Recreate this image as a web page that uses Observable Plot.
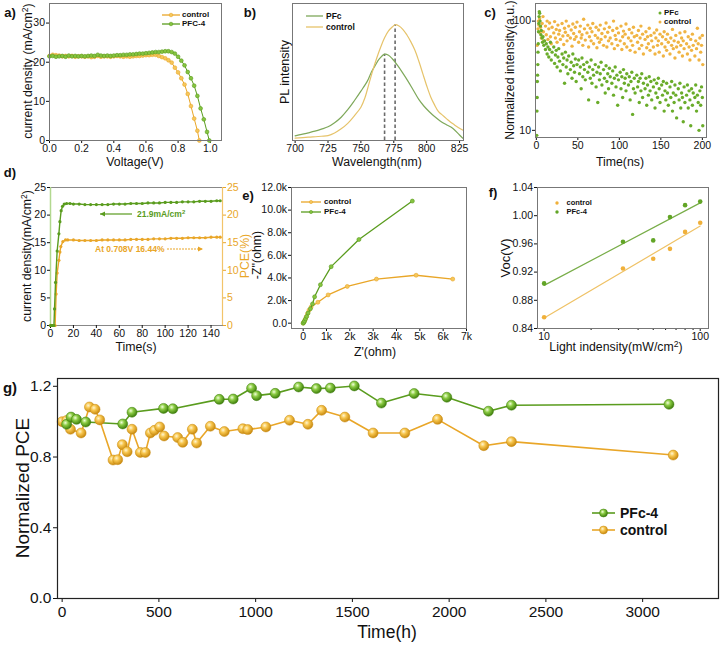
<!DOCTYPE html>
<html><head><meta charset="utf-8">
<script src="https://cdn.jsdelivr.net/npm/d3@7"></script>
<script src="https://cdn.jsdelivr.net/npm/@observablehq/plot@0.6"></script>
<style>
body{margin:0;background:#fff}
#root{position:relative;width:720px;height:646px;overflow:hidden;background:#fff}
.t{position:absolute;white-space:nowrap;line-height:1}
.t sup{font-size:0.7em;line-height:0;vertical-align:0.45em}
</style></head><body><div id="root"></div>
<script>
// ---------------- DATA ----------------
// a) J-V curves [voltage V, current density mA/cm2]
const jvControl = [[0,21.6],[0.02,21.9],[0.04,21.8],[0.06,21.7],[0.08,21.5],[0.10,21.6],[0.12,21.5],[0.14,21.6],[0.16,21.4],[0.18,21.5],[0.20,21.5],[0.22,21.4],[0.24,21.5],[0.26,21.3],[0.28,21.4],[0.30,21.6],[0.32,21.4],[0.34,21.5],[0.36,21.5],[0.38,21.4],[0.40,21.5],[0.42,21.6],[0.44,21.5],[0.46,21.4],[0.48,21.5],[0.50,21.4],[0.52,21.5],[0.54,21.6],[0.56,21.6],[0.58,21.7],[0.60,21.8],[0.62,21.8],[0.64,21.9],[0.66,21.9],[0.68,21.6],[0.70,21.3],[0.72,21.0],[0.74,20.5],[0.76,19.9],[0.78,18.6],[0.80,17.4],[0.82,15.9],[0.84,14.3],[0.86,11.9],[0.88,8.8],[0.90,5.6],[0.92,2.5],[0.932,0]];
const jvPFC4 = [[0,21.5],[0.02,21.6],[0.04,21.4],[0.06,21.5],[0.08,21.6],[0.10,21.4],[0.12,21.7],[0.14,21.5],[0.16,21.6],[0.18,21.5],[0.20,21.6],[0.22,21.5],[0.24,21.6],[0.26,21.7],[0.28,21.6],[0.30,21.9],[0.32,21.7],[0.34,21.6],[0.36,21.7],[0.38,21.6],[0.40,21.7],[0.42,21.8],[0.44,21.8],[0.46,21.9],[0.48,21.9],[0.50,22.0],[0.52,22.0],[0.54,22.1],[0.56,22.2],[0.58,22.2],[0.60,22.3],[0.62,22.4],[0.64,22.5],[0.66,22.6],[0.68,22.6],[0.70,22.7],[0.72,22.8],[0.74,22.8],[0.76,22.6],[0.78,22.2],[0.80,21.4],[0.82,20.4],[0.84,19.2],[0.86,17.5],[0.88,15.9],[0.90,14.0],[0.92,11.4],[0.94,8.2],[0.96,5.4],[0.98,2.2],[0.994,0]];

// b) PL spectra [wavelength nm, relative intensity]
const plPFc = [[700,0.034],[705,0.045],[710,0.056],[715,0.068],[720,0.083],[725,0.1],[730,0.13],[735,0.17],[740,0.225],[745,0.29],[750,0.36],[755,0.435],[758,0.5],[761,0.55],[764,0.595],[768,0.63],[771,0.622],[774,0.595],[778,0.546],[782,0.49],[786,0.43],[790,0.365],[794,0.3],[798,0.25],[802,0.21],[806,0.175],[810,0.145],[815,0.115],[820,0.088],[825,0.04],[828,0.012]];
const plControl = [[700,0.017],[710,0.024],[720,0.031],[725,0.036],[730,0.055],[735,0.085],[740,0.125],[745,0.18],[750,0.243],[753,0.31],[756,0.41],[759,0.51],[762,0.6],[765,0.68],[768,0.75],[771,0.8],[774,0.83],[776,0.845],[779,0.835],[782,0.81],[785,0.77],[788,0.72],[791,0.66],[794,0.58],[797,0.49],[800,0.4],[803,0.32],[806,0.26],[809,0.21],[812,0.185],[815,0.16],[818,0.135],[821,0.115],[824,0.095],[828,0.073]];

// c) TRPL decay [time ns, normalized intensity]
const trplPFc = [[0.5,9],[0.8,15],[1,20],[1.2,28],[1.5,32],[1.8,40],[2,52],[2.3,62],[2.6,80],[3,95],[3.3,110],[3.6,122],[4,118],[4.5,100],[5,90],[5.5,75],[6,82],[7,70],[7.5,64],[8,72],[9,60],[10,66],[11,55],[12,62],[13,50],[14,58],[15,47],[16,55],[17,64],[18,44],[19,52],[21,58],[22,41],[23,49],[24,54],[25,38],[26,47],[27,56],[28,43],[29,35],[31,50],[32,40],[33,46],[34,27],[35,52],[36,38],[37,44],[38,33],[39,48],[41,36],[42,42],[43,30],[44,50],[45,39],[46,34],[47,45],[48,28],[49,40],[51,44],[52,33],[53,38],[54,24],[55,46],[56,31],[57,40],[58,36],[59,29],[61,42],[62,34],[63,19],[64,38],[65,30],[66,44],[67,27],[68,36],[69,32],[71,40],[72,25],[73,34],[74,18],[75,38],[76,29],[77,33],[78,42],[79,26],[81,36],[82,30],[83,22],[84,39],[85,28],[86,33],[87,24],[88,37],[89,31],[91,27],[92,35],[93,21],[94,30],[95,38],[96,25],[97,32],[98,17],[99,29],[101,34],[102,24],[103,31],[104,20],[105,36],[106,27],[107,30],[108,23],[109,33],[111,26],[112,31],[113,19],[114,28],[115,34],[116,14],[117,24],[118,30],[119,22],[121,32],[122,25],[123,28],[124,18],[125,30],[126,23],[127,33],[128,20],[129,27],[131,24],[132,30],[133,17],[134,26],[135,21],[136,31],[137,23],[138,28],[139,19],[141,25],[142,29],[143,16],[144,22],[145,27],[146,20],[147,30],[148,24],[149,18],[151,26],[152,21],[153,28],[154,15],[155,23],[156,19],[157,27],[158,22],[159,17],[161,25],[162,20],[163,28],[164,15],[165,22],[166,18],[167,26],[168,21],[169,13],[171,24],[172,19],[173,27],[174,16],[175,22],[176,20],[177,12],[178,25],[179,18],[181,21],[182,26],[183,16],[184,23],[185,19],[186,11],[187,24],[188,17],[189,22],[191,20],[192,26],[193,15],[194,21],[195,18],[196,10],[197,23],[198,17],[199,25],[200,20],[200.5,11]];
const trplControl = [[1,60],[2,85],[2.5,100],[3,92],[4,105],[4.5,78],[5,88],[6,70],[7,95],[8,110],[8.5,80],[9,66],[11,90],[12,75],[13,100],[14,68],[15,85],[16,96],[17,72],[18,62],[19,88],[21,78],[22,99],[23,70],[24,84],[25,64],[26,92],[27,76],[28,82],[29,68],[31,95],[32,73],[33,61],[34,86],[35,79],[36,100],[37,66],[38,74],[39,90],[41,70],[42,83],[43,59],[44,94],[45,77],[46,68],[47,88],[48,72],[49,98],[51,64],[52,80],[53,90],[54,70],[55,75],[56,60],[57,104],[58,85],[59,67],[61,78],[62,92],[63,58],[64,72],[65,86],[66,66],[67,80],[68,95],[69,62],[71,74],[72,88],[73,57],[74,70],[75,83],[76,64],[77,92],[78,68],[79,77],[81,60],[82,85],[83,72],[84,96],[85,58],[86,79],[87,66],[88,88],[89,70],[91,62],[92,82],[93,100],[94,56],[95,74],[96,68],[97,86],[98,60],[99,78],[101,66],[102,90],[103,55],[104,72],[105,81],[106,62],[107,76],[108,94],[109,58],[111,70],[112,84],[113,54],[114,66],[115,78],[116,60],[117,88],[118,72],[119,52],[121,74],[122,64],[123,82],[124,56],[125,70],[126,90],[127,60],[128,76],[129,50],[131,68],[132,80],[133,57],[134,72],[135,62],[136,86],[137,54],[138,74],[139,66],[141,58],[142,78],[143,50],[144,70],[145,83],[146,60],[147,66],[148,52],[149,76],[151,62],[152,72],[153,48],[154,80],[155,58],[156,68],[157,54],[158,76],[159,64],[161,50],[162,70],[163,60],[164,84],[165,56],[166,66],[167,46],[168,74],[169,58],[171,64],[172,52],[173,78],[174,60],[175,70],[176,48],[177,66],[178,56],[179,80],[181,62],[182,50],[183,72],[184,58],[185,44],[186,68],[187,54],[188,76],[189,60],[191,48],[192,66],[193,56],[194,86],[195,62],[196,44],[197,70],[198,52],[199,60],[200,74],[200.5,40]];

// d) steady-state output
const jscTime = [0,1,2,3,3.5,4.4,5.8,7.3,8.2,9.3,10.5,12,14,17,20,25,30,35,40,45,50,55,60,65,70,75,80,85,90,95,100,105,110,115,120,125,130,135,140,145,148];
const jscValue = [0,0,0,0,3,7.8,13.5,16.6,18.8,20.8,21.6,22.0,22.1,22.1,22.0,22.0,21.9,21.9,21.9,21.9,21.9,22.0,22.0,22.0,22.1,22.1,22.1,22.2,22.2,22.2,22.3,22.3,22.3,22.4,22.4,22.4,22.5,22.5,22.5,22.6,22.6];
const pceTime = [0,1,2,3,4,4.9,5.8,7.3,8.2,9.0,10.8,13.1,15,20,25,30,35,40,45,50,55,60,65,70,75,80,85,90,95,100,105,110,115,120,125,130,135,140,145,148];
const pceValue = [0,0,0,0,0,5.7,9.5,11.8,13.3,14.3,15.2,15.5,15.5,15.5,15.4,15.4,15.4,15.4,15.5,15.5,15.5,15.5,15.5,15.6,15.6,15.6,15.6,15.7,15.7,15.7,15.8,15.8,15.8,15.9,15.9,15.9,15.9,16.0,16.0,16.0];

// e) Nyquist [Z' ohm, -Z'' ohm]
const eisControl = [[0,0],[40,120],[80,300],[130,550],[190,850],[250,1150],[340,1430],[630,1850],[1070,2500],[1890,3250],[3140,3900],[4840,4240],[6410,3900]];
const eisPFc4 = [[0,0],[30,80],[60,200],[100,380],[150,600],[210,900],[310,1280],[400,1700],[490,2330],[740,3400],[1200,5000],[2390,7400],[4680,10800]];

// f) Voc vs light intensity
const lightIntensity = [10, 32, 50, 64, 80, 100];
const vocControl = [0.856, 0.925, 0.939, 0.953, 0.977, 0.990];
const vocPFc4 = [0.904, 0.963, 0.965, 0.998, 1.015, 1.020];

// g) stability
const hoursPFc4 = [23,46,74,122,313,361,524,572,812,884,979,1005,1101,1222,1314,1386,1510,1650,1819,1988,2203,2322,3136];
const pcePFc4 = [0.985,1.026,1.013,0.998,0.987,1.053,1.075,1.073,1.126,1.128,1.189,1.147,1.16,1.196,1.187,1.19,1.202,1.105,1.159,1.138,1.059,1.093,1.098];
const hoursControl = [0,24,43,98,141,170,194,263,287,311,336,361,404,430,456,477,504,527,597,623,673,695,766,838,934,959,1053,1175,1270,1341,1461,1607,1771,1940,2179,2322,3158];
const pceControl = [1.0,1.007,0.957,0.936,1.083,1.07,1.01,0.783,0.785,0.87,0.83,0.957,0.826,0.826,0.936,0.951,0.97,0.919,0.91,0.883,0.957,0.879,0.974,0.944,0.96,0.955,0.97,1.008,0.985,1.064,1.026,0.936,0.936,1.013,0.864,0.887,0.811];

// ticks
const ticksA_x = [0,0.2,0.4,0.6,0.8,1.0], ticksA_y = [0,10,20,30];
const ticksB_x = [700,725,750,775,800,825];
const ticksC_x = [0,50,100,150,200], ticksC_y = [10,100];
const ticksD_x = [0,20,40,60,80,100,120,140], ticksD_y = [0,5,10,15,20,25];
const ticksE_x = [0,1000,2000,3000,4000,5000,6000,7000], ticksE_y = [0,2000,4000,6000,8000,10000,12000];
const ticksF_x = [10,100], ticksF_minor = [20,30,40,50,60,70,80,90], ticksF_y = [0.84,0.88,0.92,0.96,1.00,1.04];
const ticksG_x = [0,500,1000,1500,2000,2500,3000], ticksG_y = [0,0.4,0.8,1.2];

// ---------------- STYLE / HELPERS ----------------
const FONT = "'Liberation Sans', Arial, Helvetica, sans-serif";
const GREEN = "#5a9c1e", GREEN_L = "#86c440", ORANGE = "#e9a628", ORANGE_L = "#f5c75c";
const GREEN_B = "#7ea85a", ORANGE_B = "#e6c36a";
const root = document.getElementById("root");

function put(node, left, top) {
  node.style.position = "absolute"; node.style.left = left + "px"; node.style.top = top + "px";
  root.appendChild(node);
}
function txt(html, x, y, o = {}) {
  const d = document.createElement("div");
  d.className = "t";
  d.innerHTML = html;
  d.style.fontSize = (o.size || 12) + "px";
  d.style.fontWeight = o.bold ? "bold" : "normal";
  d.style.color = o.color || "#111";
  d.style.fontFamily = FONT;
  const tx = o.align === "left" ? "0" : "-50%";
  d.style.transform = `translate(${tx},-50%)` + (o.rot ? " rotate(-90deg)" : "");
  put(d, x, y);
}
function swatch(x0, x1, y, color, fill, o = {}) {
  const r = o.r ?? 2, pad = Math.max(r, 2) + 1, w = x1 - x0;
  const svg = d3.create("svg").attr("width", w + 2 * pad).attr("height", 2 * pad).style("overflow", "visible");
  if (o.line !== false) svg.append("line").attr("x1", pad).attr("x2", w + pad).attr("y1", pad).attr("y2", pad)
    .attr("stroke", color).attr("stroke-width", o.sw || 1.3);
  if (r) svg.append("circle").attr("cx", w / 2 + pad).attr("cy", pad).attr("r", r)
    .attr("fill", fill).attr("stroke", o.stroke || color).attr("stroke-width", o.dsw ?? 0.6);
  put(svg.node(), x0 - pad, y - pad);
}
function arrowLine(x0, x1, y, color, head, dashed) {
  const svg = d3.create("svg").attr("width", Math.abs(x1 - x0) + 8).attr("height", 10).style("overflow", "visible");
  const L = Math.min(x0, x1) - 4;
  const a = x0 - L, b = x1 - L;
  svg.append("line").attr("x1", a).attr("x2", b).attr("y1", 5).attr("y2", 5).attr("stroke", color)
    .attr("stroke-width", 1.2).attr("stroke-dasharray", dashed ? "2,1" : null);
  const hx = head === "start" ? a : b, dir = head === "start" ? 1 : -1;
  svg.append("path").attr("d", `M${hx},5 L${hx + dir * 5},2.5 L${hx + dir * 5},7.5 Z`).attr("fill", color);
  put(svg.node(), L, y - 5);
}

// gradients for sphere markers
const defs = d3.create("svg").attr("width", 0).attr("height", 0);
const dd = defs.append("defs");
[["gradG", "#f2ffd9", "#8ccc44", "#3f7f0c"], ["gradO", "#fff6d2", "#f7c64e", "#c98a10"]].forEach(([id, c0, c1, c2]) => {
  const g = dd.append("radialGradient").attr("id", id).attr("cx", "38%").attr("cy", "35%").attr("r", "65%");
  g.append("stop").attr("offset", "0%").attr("stop-color", c0);
  g.append("stop").attr("offset", "40%").attr("stop-color", c1);
  g.append("stop").attr("offset", "100%").attr("stop-color", c2);
});
put(defs.node(), 0, 0);

const baseStyle = (size) => ({fontFamily: FONT, fontSize: size + "px", color: "#111", background: "none", overflow: "visible"});
const toXY = (arr) => arr.map(([x, y]) => ({x, y}));

// ---------------- PANEL a ----------------
const pa = Plot.plot({
  width: 240, height: 160, marginTop: 3, marginLeft: 49, marginRight: 19, marginBottom: 20,
  style: baseStyle(10.5),
  x: {domain: [0, 1.07]}, y: {domain: [0, 35]},
  marks: [
    Plot.axisX({ticks: ticksA_x, tickFormat: d3.format(".1f"), tickSize: 3, tickPadding: 1.5, label: null}),
    Plot.axisY({ticks: ticksA_y, tickSize: 3, tickPadding: 1.5, label: null}),
    Plot.line(toXY(jvControl), {x: "x", y: "y", stroke: ORANGE, strokeWidth: 1}),
    Plot.dot(toXY(jvControl), {x: "x", y: "y", r: 1.9, fill: ORANGE_L, stroke: ORANGE, strokeWidth: 0.6}),
    Plot.line(toXY(jvPFC4), {x: "x", y: "y", stroke: GREEN, strokeWidth: 1}),
    Plot.dot(toXY(jvPFC4), {x: "x", y: "y", r: 1.9, fill: GREEN_L, stroke: GREEN, strokeWidth: 0.6}),
    Plot.frame({stroke: "#777"})
  ]
});
put(pa, 0, 0);

// ---------------- PANEL b ----------------
const plC = toXY(plControl), plP = toXY(plPFc);
const peaks = [d3.greatest(plP, d => d.y), d3.greatest(plC, d => d.y)];
const pb = Plot.plot({
  width: 240, height: 160, marginTop: 3, marginLeft: 52, marginRight: 17, marginBottom: 20,
  style: baseStyle(10.5),
  x: {domain: [698, 828]}, y: {domain: [0, 1], axis: null},
  marks: [
    Plot.axisX({ticks: ticksB_x, tickSize: 3, tickPadding: 1.5, label: null}),
    Plot.ruleX(peaks, {x: "x", y1: 0, y2: "y", stroke: "#6b6b6b", strokeWidth: 1.6, strokeDasharray: "3.5,2.5"}),
    Plot.line(plP, {x: "x", y: "y", stroke: GREEN_B, strokeWidth: 1.2, curve: "catmull-rom"}),
    Plot.line(plC, {x: "x", y: "y", stroke: ORANGE_B, strokeWidth: 1.2, curve: "catmull-rom"}),
    Plot.frame({stroke: "#777"})
  ]
});
put(pb, 240, 0);

// ---------------- PANEL c ----------------
const pc = Plot.plot({
  width: 240, height: 160, marginTop: 3, marginLeft: 55, marginRight: 14, marginBottom: 23,
  style: baseStyle(10.5),
  x: {domain: [-1, 205]}, y: {type: "log", domain: [8.6, 145]},
  marks: [
    Plot.axisX({ticks: ticksC_x, tickSize: 3, tickPadding: 1.5, label: null}),
    Plot.axisY({ticks: ticksC_y, tickFormat: d3.format("d"), tickSize: 3, tickPadding: 1.5, label: null}),
    Plot.dot(toXY(trplControl), {x: "x", y: "y", r: 1.7, fill: "#f0b443"}),
    Plot.dot(toXY(trplPFc), {x: "x", y: "y", r: 1.7, fill: "#6aac2a"}),
    Plot.frame({stroke: "#777"})
  ]
});
put(pc, 480, 0);

// ---------------- PANEL d ----------------
const jscData = jscTime.map((t, i) => ({x: t, y: jscValue[i]}));
const pceData = pceTime.map((t, i) => ({x: t, y: pceValue[i]}));
const dDomX = [0, 150];
const pd = Plot.plot({
  width: 250, height: 195, marginTop: 27, marginLeft: 50, marginRight: 28, marginBottom: 30,
  style: baseStyle(10.5),
  x: {domain: dDomX}, y: {domain: [0, 25]},
  marks: [
    Plot.frame({stroke: "#888"}),
    Plot.ruleX([dDomX[0]], {stroke: "#b2d88f", strokeWidth: 1.5}),
    Plot.ruleX([dDomX[1]], {stroke: "#f2c46a", strokeWidth: 1.2}),
    Plot.axisX({ticks: ticksD_x, tickSize: 3, tickPadding: 1.5, label: null}),
    Plot.axisY({ticks: ticksD_y, tickSize: 3, tickPadding: 1.5, label: null}),
    Plot.axisY({anchor: "right", ticks: ticksD_y, tickSize: 3, tickPadding: 1.5, label: null, color: ORANGE}),
    Plot.line(pceData, {x: "x", y: "y", stroke: ORANGE, strokeWidth: 1.4}),
    Plot.dot(pceData, {x: "x", y: "y", r: 1.6, fill: ORANGE, stroke: "none"}),
    Plot.line(jscData, {x: "x", y: "y", stroke: GREEN, strokeWidth: 1.4}),
    Plot.dot(jscData, {x: "x", y: "y", r: 1.6, fill: GREEN, stroke: "none"})
  ]
});
put(pd, 0, 160);

// ---------------- PANEL e ----------------
const fmtK1 = d => d === 0 ? "0.0" : (d / 1000).toFixed(1) + "k";
const fmtK = d => d === 0 ? "0" : (d / 1000) + "k";
const pe = Plot.plot({
  width: 230, height: 195, marginTop: 27, marginLeft: 41, marginRight: 14, marginBottom: 27,
  style: baseStyle(10.5),
  x: {domain: [-500, 7000]}, y: {domain: [-470, 12000]},
  marks: [
    Plot.axisX({ticks: ticksE_x, tickFormat: fmtK, tickSize: 3, tickPadding: 1.5, label: null}),
    Plot.axisY({ticks: ticksE_y, tickFormat: fmtK1, tickSize: 3, tickPadding: 1.5, label: null}),
    Plot.line(toXY(eisControl), {x: "x", y: "y", stroke: ORANGE, strokeWidth: 1.3}),
    Plot.dot(toXY(eisControl), {x: "x", y: "y", r: 2, fill: ORANGE_L, stroke: ORANGE, strokeWidth: 0.6}),
    Plot.line(toXY(eisPFc4), {x: "x", y: "y", stroke: GREEN, strokeWidth: 1.3}),
    Plot.dot(toXY(eisPFc4), {x: "x", y: "y", r: 2, fill: GREEN_L, stroke: GREEN, strokeWidth: 0.6}),
    Plot.frame({stroke: "#777"})
  ]
});
put(pe, 250, 160);

// ---------------- PANEL f ----------------
function logFit(xs, ys) {
  const lx = xs.map(Math.log10), mx = d3.mean(lx), my = d3.mean(ys);
  const b = d3.sum(lx, (v, i) => (v - mx) * (ys[i] - my)) / d3.sum(lx, v => (v - mx) ** 2);
  const a = my - b * mx;
  return d3.extent(xs).map(x => ({x, y: a + b * Math.log10(x)}));
}
const fC = lightIntensity.map((x, i) => ({x, y: vocControl[i]}));
const fP = lightIntensity.map((x, i) => ({x, y: vocPFc4[i]}));
const pf = Plot.plot({
  width: 240, height: 195, marginTop: 27, marginLeft: 57, marginRight: 12, marginBottom: 27,
  style: baseStyle(10.5),
  x: {type: "log", domain: [9.07, 113]}, y: {domain: [0.84, 1.04]},
  marks: [
    Plot.axisX({ticks: ticksF_x, tickFormat: d3.format("d"), tickSize: 3, tickPadding: 1, label: null}),
    Plot.axisX({ticks: ticksF_minor, tickFormat: () => "", tickSize: 2, label: null}),
    Plot.axisY({ticks: ticksF_y, tickFormat: d3.format(".2f"), tickSize: 3, tickPadding: 1.5, label: null}),
    Plot.line(logFit(lightIntensity, vocControl), {x: "x", y: "y", stroke: "#efc266", strokeWidth: 1.2}),
    Plot.line(logFit(lightIntensity, vocPFc4), {x: "x", y: "y", stroke: "#78ad48", strokeWidth: 1.2}),
    Plot.dot(fC, {x: "x", y: "y", r: 2.3, fill: "#f0b03a"}),
    Plot.dot(fP, {x: "x", y: "y", r: 2.3, fill: "#62a526"}),
    Plot.frame({stroke: "#777"})
  ]
});
put(pf, 480, 160);

// ---------------- PANEL g ----------------
const gP = hoursPFc4.map((x, i) => ({x, y: pcePFc4[i]}));
const gC = hoursControl.map((x, i) => ({x, y: pceControl[i]}));
const pg = Plot.plot({
  width: 720, height: 291, marginTop: 23, marginLeft: 57, marginRight: 2, marginBottom: 48,
  style: baseStyle(15.5),
  x: {domain: [-24, 3392]}, y: {domain: [0, 1.244]},
  marks: [
    Plot.axisX({ticks: ticksG_x, tickFormat: d3.format("d"), tickSize: 4, tickPadding: 3, label: null}),
    Plot.axisY({ticks: ticksG_y, tickFormat: d3.format(".1f"), tickSize: 4, tickPadding: 2, label: null}),
    Plot.line(gC, {x: "x", y: "y", stroke: ORANGE, strokeWidth: 1.6}),
    Plot.line(gP, {x: "x", y: "y", stroke: GREEN, strokeWidth: 1.6}),
    Plot.dot(gC, {x: "x", y: "y", r: 5, fill: "url(#gradO)", stroke: "#c98a10", strokeWidth: 0.5}),
    Plot.dot(gP, {x: "x", y: "y", r: 5, fill: "url(#gradG)", stroke: "#3f7f0c", strokeWidth: 0.5}),
    Plot.frame({stroke: "#222", strokeWidth: 1.2})
  ]
});
put(pg, 0, 355);

// ---------------- TEXT: panel letters ----------------
const L = {size: 13, bold: true};
txt("a)", 10, 12, L); txt("b)", 250, 12, L); txt("c)", 490, 12, L);
txt("d)", 10, 172, L); txt("e)", 248, 195, L); txt("f)", 493, 192, L);
txt("g)", 10, 387, {size: 15, bold: true});

// axis titles
const AT = {size: 12.3};
txt("current density (mA/cm<sup>2</sup>)", 28, 71, {...AT, rot: true});
txt("Voltage(V)", 135, 162, AT);
txt("PL intensity", 285, 72, {size: 12.5, rot: true});
txt("Wavelength(nm)", 377, 162, AT);
txt("Normalized intensity(a.u.)", 510, 70, {...AT, rot: true});
txt("Time(ns)", 620, 162, AT);
txt("current density(mA/cm<sup>2</sup>)", 27, 256, {...AT, rot: true});
txt("PCE(%)", 245, 256, {...AT, rot: true, color: ORANGE});
txt("Time(s)", 136, 347, AT);
txt("-Z''(ohm)", 257, 255, {...AT, rot: true});
txt("Z'(ohm)", 375, 352, AT);
txt("Voc(V)", 505, 258, {size: 13, rot: true});
txt("Light indensity(mW/cm<sup>2</sup>)", 616, 347, AT);
txt("Normalized PCE", 22, 488, {size: 19, rot: true});
txt("Time(h)", 387, 633, {size: 17.5});

// legends
swatch(162, 180, 15, ORANGE, ORANGE_L, {r: 1.8}); txt("control", 182, 15, {size: 8, bold: true, align: "left"});
swatch(162, 180, 24, GREEN, GREEN_L, {r: 1.8}); txt("PFC-4", 182, 24, {size: 8, bold: true, align: "left"});

swatch(306, 323, 15.7, GREEN_B, "none", {r: 0}); txt("PFc", 326, 15.7, {size: 8.5, bold: true, align: "left"});
swatch(306, 323, 26.7, ORANGE_B, "none", {r: 0}); txt("control", 326, 26.7, {size: 8.5, bold: true, align: "left"});

swatch(660, 660, 12.7, "#6aac2a", "#6aac2a", {r: 1.5, line: false, dsw: 0}); txt("PFc", 664, 12.7, {size: 8, bold: true, align: "left"});
swatch(660, 660, 22.3, "#f0b443", "#f0b443", {r: 1.5, line: false, dsw: 0}); txt("control", 664, 22.3, {size: 8, bold: true, align: "left"});

swatch(301, 321, 201.7, ORANGE, ORANGE_L, {r: 1.6}); txt("control", 324, 201.7, {size: 8, bold: true, align: "left"});
swatch(301, 321, 212.3, GREEN, GREEN_L, {r: 1.6}); txt("PFc-4", 324, 212.3, {size: 8, bold: true, align: "left"});

swatch(557.3, 557.3, 203.3, "#f0b03a", "#f0b03a", {r: 1.7, line: false, dsw: 0}); txt("control", 566.5, 203.3, {size: 7.5, bold: true, align: "left"});
swatch(557.3, 557.3, 211.7, "#62a526", "#62a526", {r: 1.7, line: false, dsw: 0}); txt("PFc-4", 566.5, 211.7, {size: 7.5, bold: true, align: "left"});

swatch(592, 615, 513, GREEN, "url(#gradG)", {r: 4, sw: 1.6, stroke: "#3f7f0c", dsw: 0.5}); txt("PFc-4", 620, 513, {size: 14, bold: true, align: "left"});
swatch(592, 615, 530, ORANGE, "url(#gradO)", {r: 4, sw: 1.6, stroke: "#c98a10", dsw: 0.5}); txt("control", 620, 530, {size: 14, bold: true, align: "left"});

// d) annotations
arrowLine(100, 132, 214, GREEN, "start", false);
txt("21.9mA/cm<sup>2</sup>", 137, 214, {size: 8.5, bold: true, color: GREEN, align: "left"});
txt("At 0.708V 16.44%", 95, 249, {size: 8.5, bold: true, color: ORANGE, align: "left"});
arrowLine(167, 203, 249, ORANGE, "end", true);
</script></body></html>
